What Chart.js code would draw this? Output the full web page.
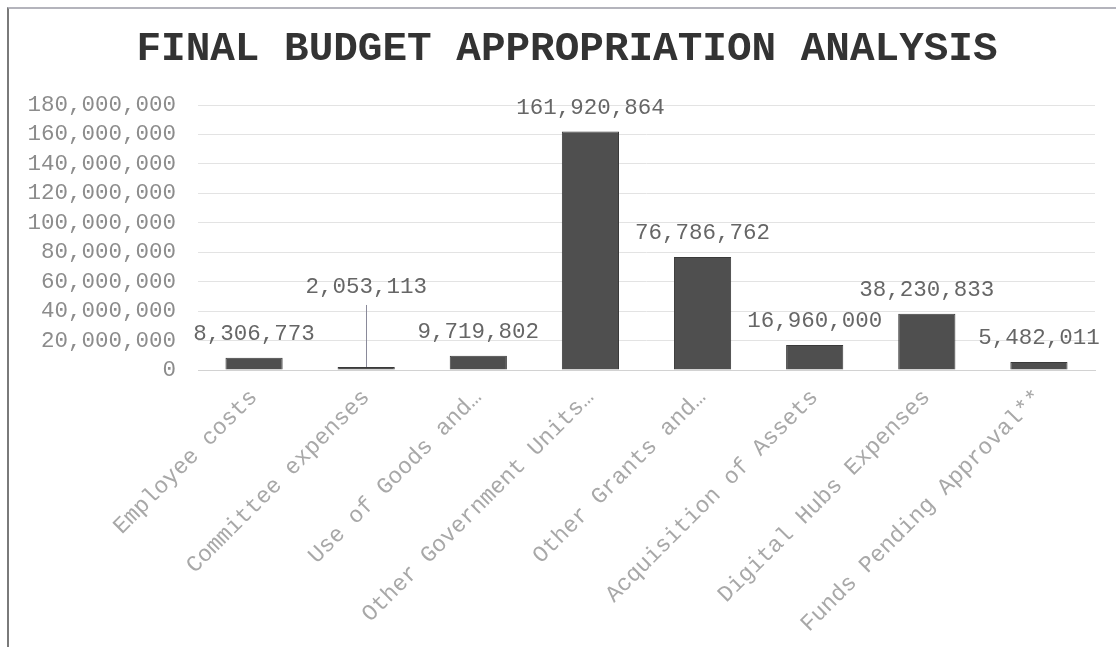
<!DOCTYPE html>
<html>
<head>
<meta charset="utf-8">
<script src="https://cdn.jsdelivr.net/npm/chart.js@4/dist/chart.umd.min.js"></script>
<style>
  html, body { margin: 0; padding: 0; background: #fff; }
  #wrap { position: relative; width: 1116px; height: 647px; overflow: hidden; }
  #frame {
    position: absolute; left: 7px; top: 7px; width: 1200px; height: 700px;
    border-left: 2px solid #7a7a7a; border-top: 2px solid #b4b4bc;
    pointer-events: none;
  }
  canvas { position: absolute; left: 0; top: 0; }
</style>
</head>
<body>
<div id="wrap">
  <canvas id="budgetChart" width="1116" height="647"></canvas>
  <div id="frame"></div>
</div>
<script>
// Budget lines and final appropriation amounts
const categories = [
  'Employee costs',
  'Committee expenses',
  'Use of Goods and…',
  'Other Government Units…',
  'Other Grants and…',
  'Acquisition of Assets',
  'Digital Hubs Expenses',
  'Funds Pending Approval**'
];
const amounts = [8306773, 2053113, 9719802, 161920864, 76786762, 16960000, 38230833, 5482011];
const yTicks = [0, 20000000, 40000000, 60000000, 80000000, 100000000, 120000000, 140000000, 160000000, 180000000];
const chartTitle = 'FINAL BUDGET APPROPRIATION ANALYSIS';

const MONO = '"Liberation Mono", "Courier New", monospace';

function fmt(v) {
    return Number(v).toLocaleString('en-US');
}

// title drawn by hand so it can sit a little right of the canvas centre, like the original
const titleText = {
    id: 'titleText',
    afterDraw(chart, args, opts) {
        const ctx = chart.ctx;
        ctx.save();
        ctx.font = 'bold 41px ' + MONO;
        ctx.fillStyle = '#333';
        ctx.textAlign = 'center';
        ctx.textBaseline = 'middle';
        ctx.fillText(opts.text, opts.x, opts.y);
        ctx.restore();
    }
};

// value labels above each bar; the tiny committee bar gets a raised label with a leader line
const valueLabels = {
    id: 'valueLabels',
    afterDatasetsDraw(chart, args, opts) {
        const ctx = chart.ctx;
        const meta = chart.getDatasetMeta(0);
        ctx.save();
        ctx.font = '22.5px ' + MONO;
        ctx.fillStyle = '#666';
        ctx.textAlign = 'center';
        ctx.textBaseline = 'middle';
        meta.data.forEach((bar, i) => {
            const lift = opts.lifted.includes(i) ? opts.liftBy : 0;
            const y = bar.y - opts.offset - lift;
            ctx.fillText(fmt(amounts[i]), bar.x, y);
            if (lift) {
                ctx.strokeStyle = '#8a8a9a';
                ctx.lineWidth = 1;
                ctx.beginPath();
                ctx.moveTo(Math.round(bar.x) + 0.5, y + 18);
                ctx.lineTo(Math.round(bar.x) + 0.5, bar.y);
                ctx.stroke();
            }
        });
        ctx.restore();
    }
};

new Chart(document.getElementById('budgetChart'), {
    type: 'bar',
    data: {
        labels: categories,
        datasets: [{
            data: amounts,
            backgroundColor: '#4f4f4f',
            borderColor: '#3a3a3a',
            borderWidth: 1,
            categoryPercentage: 1,
            barPercentage: 0.51
        }]
    },
    options: {
        responsive: false,
        animation: false,
        devicePixelRatio: 1,
        layout: {
            padding: { top: 105, left: 20, right: 21, bottom: 0 }
        },
        plugins: {
            legend: { display: false },
            tooltip: { enabled: false },
            title: { display: false },
            titleText: { text: chartTitle, x: 567, y: 50 },
            valueLabels: {
                offset: 24,
                lifted: [1],
                liftBy: 56
            }
        },
        scales: {
            x: {
                grid: { display: false, drawTicks: false },
                border: { display: true, color: '#d2d2d2', width: 1 },
                ticks: {
                    color: '#a8a8a8',
                    font: { family: MONO, size: 23 },
                    minRotation: 45,
                    maxRotation: 45,
                    autoSkip: false,
                    padding: 14
                },
                afterFit(scale) { scale.height = 277; }
            },
            y: {
                min: 0,
                max: 180000000,
                afterBuildTicks(scale) {
                    scale.ticks = yTicks.map(v => ({ value: v }));
                },
                grid: { color: '#e3e3e3', drawTicks: false },
                border: { display: false },
                ticks: {
                    color: '#8c8c8c',
                    font: { family: MONO, size: 22.5 },
                    padding: 22,
                    autoSkip: false,
                    callback: v => fmt(v)
                },
                afterFit(scale) { scale.width = 178; }
            }
        }
    },
    plugins: [valueLabels, titleText]
});
</script>
</body>
</html>
